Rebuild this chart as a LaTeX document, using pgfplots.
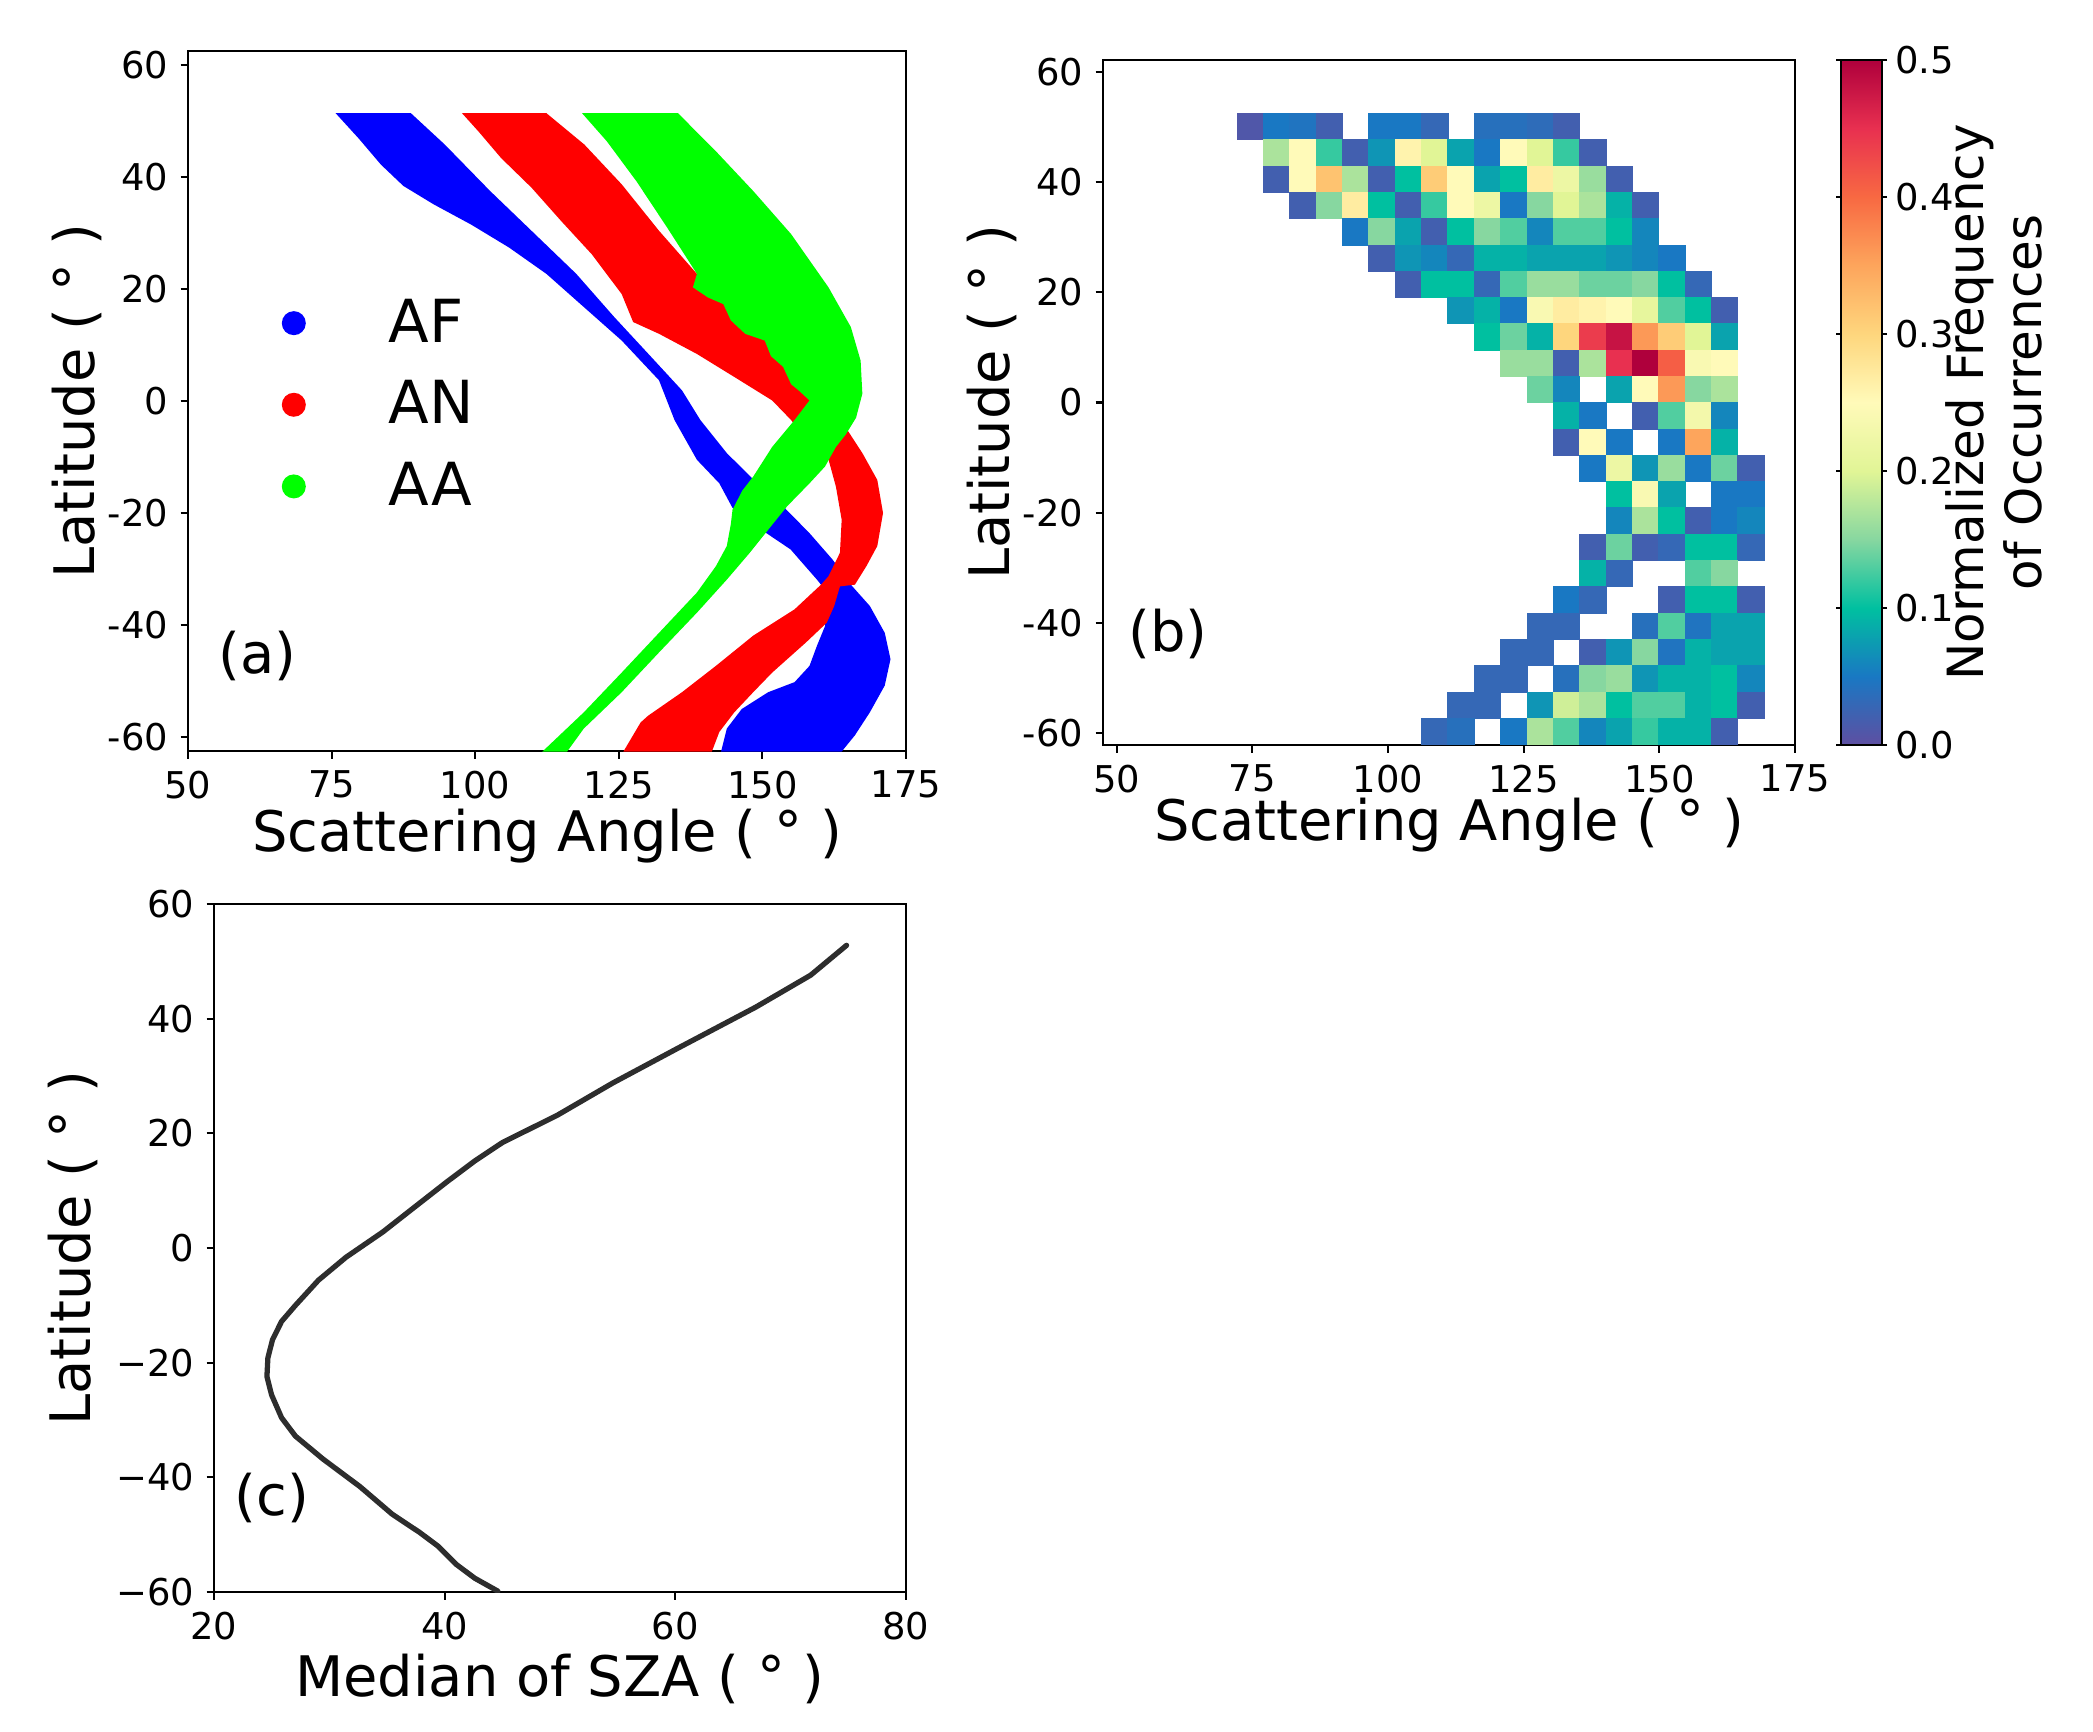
\documentclass[border=0pt]{standalone}
\usepackage{fontspec}
\setmainfont{DejaVu Sans}
\usepackage{pgfplots}
\pgfplotsset{compat=1.18}

\definecolor{afblue}{RGB}{0,0,255}
\definecolor{anred}{RGB}{255,0,0}
\definecolor{aagreen}{RGB}{0,255,0}
\definecolor{szaline}{RGB}{45,45,45}

\pgfplotsset{
  colormap={spectralr}{rgb255=(94,79,162) rgb255=(25,120,195) rgb255=(0,192,160)
    rgb255=(135,215,160) rgb255=(225,245,150) rgb255=(255,250,185) rgb255=(254,214,125)
    rgb255=(253,165,92) rgb255=(248,105,66) rgb255=(232,48,80) rgb255=(175,0,60)},
  panel/.style={
    scale only axis,
    axis line style={line width=0.6pt},
    tick align=outside, tick pos=left,
    major tick length=0.075cm,
    every tick/.append style={black, line width=0.6pt},
    tick label style={font=\fontsize{10.5}{12}\selectfont},
    label style={font=\fontsize{15.9}{18}\selectfont},
    /pgf/number format/assume math mode=true,
    xlabel style={anchor=center},
    ylabel style={anchor=center},
  },
}

% heatmap cells: x = scattering angle bin centre, y = latitude bin centre, c = frequency
\pgfplotstableread{
x y c
74.61 50.08 0.01
79.47 50.08 0.05
84.33 50.08 0.045
89.18 50.08 0.02
98.90 50.08 0.05
103.76 50.08 0.05
108.62 50.08 0.03
118.33 50.08 0.04
123.19 50.08 0.04
128.05 50.08 0.035
132.91 50.08 0.02
79.47 45.31 0.17
84.33 45.31 0.25
89.18 45.31 0.12
94.04 45.31 0.02
98.90 45.31 0.07
103.76 45.31 0.26
108.62 45.31 0.20
113.47 45.31 0.08
118.33 45.31 0.05
123.19 45.31 0.25
128.05 45.31 0.20
132.91 45.31 0.12
137.76 45.31 0.02
79.47 40.53 0.02
84.33 40.53 0.25
89.18 40.53 0.32
94.04 40.53 0.17
98.90 40.53 0.02
103.76 40.53 0.10
108.62 40.53 0.31
113.47 40.53 0.25
118.33 40.53 0.08
123.19 40.53 0.10
128.05 40.53 0.27
132.91 40.53 0.22
137.76 40.53 0.16
142.62 40.53 0.02
84.33 35.76 0.02
89.18 35.76 0.15
94.04 35.76 0.27
98.90 35.76 0.10
103.76 35.76 0.02
108.62 35.76 0.12
113.47 35.76 0.25
118.33 35.76 0.22
123.19 35.76 0.05
128.05 35.76 0.15
132.91 35.76 0.20
137.76 35.76 0.17
142.62 35.76 0.09
147.48 35.76 0.02
94.04 30.98 0.05
98.90 30.98 0.15
103.76 30.98 0.08
108.62 30.98 0.02
113.47 30.98 0.10
118.33 30.98 0.15
123.19 30.98 0.13
128.05 30.98 0.06
132.91 30.98 0.13
137.76 30.98 0.13
142.62 30.98 0.10
147.48 30.98 0.06
98.90 26.21 0.02
103.76 26.21 0.07
108.62 26.21 0.06
113.47 26.21 0.03
118.33 26.21 0.09
123.19 26.21 0.09
128.05 26.21 0.08
132.91 26.21 0.08
137.76 26.21 0.08
142.62 26.21 0.07
147.48 26.21 0.06
152.34 26.21 0.05
103.76 21.43 0.02
108.62 21.43 0.10
113.47 21.43 0.10
118.33 21.43 0.03
123.19 21.43 0.13
128.05 21.43 0.16
132.91 21.43 0.16
137.76 21.43 0.14
142.62 21.43 0.14
147.48 21.43 0.15
152.34 21.43 0.10
157.20 21.43 0.03
113.47 16.66 0.07
118.33 16.66 0.09
123.19 16.66 0.05
128.05 16.66 0.24
132.91 16.66 0.27
137.76 16.66 0.26
142.62 16.66 0.25
147.48 16.66 0.21
152.34 16.66 0.13
157.20 16.66 0.10
162.05 16.66 0.02
118.33 11.88 0.10
123.19 11.88 0.14
128.05 11.88 0.09
132.91 11.88 0.30
137.76 11.88 0.44
142.62 11.88 0.48
147.48 11.88 0.36
152.34 11.88 0.31
157.20 11.88 0.20
162.05 11.88 0.08
123.19 7.11 0.16
128.05 7.11 0.16
132.91 7.11 0.02
137.76 7.11 0.17
142.62 7.11 0.45
147.48 7.11 0.50
152.34 7.11 0.41
157.20 7.11 0.24
162.05 7.11 0.25
128.05 2.33 0.14
132.91 2.33 0.06
142.62 2.33 0.08
147.48 2.33 0.25
152.34 2.33 0.36
157.20 2.33 0.15
162.05 2.33 0.17
132.91 -2.44 0.09
137.76 -2.44 0.05
147.48 -2.44 0.02
152.34 -2.44 0.13
157.20 -2.44 0.23
162.05 -2.44 0.06
132.91 -7.22 0.02
137.76 -7.22 0.25
142.62 -7.22 0.05
152.34 -7.22 0.05
157.20 -7.22 0.35
162.05 -7.22 0.09
137.76 -11.99 0.05
142.62 -11.99 0.22
147.48 -11.99 0.07
152.34 -11.99 0.16
157.20 -11.99 0.05
162.05 -11.99 0.14
166.91 -11.99 0.02
142.62 -16.77 0.10
147.48 -16.77 0.24
152.34 -16.77 0.08
162.05 -16.77 0.05
166.91 -16.77 0.05
142.62 -21.54 0.06
147.48 -21.54 0.17
152.34 -21.54 0.10
157.20 -21.54 0.02
162.05 -21.54 0.05
166.91 -21.54 0.06
137.76 -26.32 0.02
142.62 -26.32 0.14
147.48 -26.32 0.02
152.34 -26.32 0.03
157.20 -26.32 0.10
162.05 -26.32 0.10
166.91 -26.32 0.03
137.76 -31.09 0.09
142.62 -31.09 0.03
157.20 -31.09 0.13
162.05 -31.09 0.15
132.91 -35.87 0.05
137.76 -35.87 0.03
152.34 -35.87 0.02
157.20 -35.87 0.10
162.05 -35.87 0.10
166.91 -35.87 0.02
128.05 -40.64 0.03
132.91 -40.64 0.03
147.48 -40.64 0.04
152.34 -40.64 0.13
157.20 -40.64 0.045
162.05 -40.64 0.08
166.91 -40.64 0.08
123.19 -45.42 0.03
128.05 -45.42 0.03
137.76 -45.42 0.02
142.62 -45.42 0.07
147.48 -45.42 0.15
152.34 -45.42 0.045
157.20 -45.42 0.09
162.05 -45.42 0.08
166.91 -45.42 0.08
118.33 -50.19 0.03
123.19 -50.19 0.03
132.91 -50.19 0.04
137.76 -50.19 0.15
142.62 -50.19 0.16
147.48 -50.19 0.07
152.34 -50.19 0.09
157.20 -50.19 0.09
162.05 -50.19 0.10
166.91 -50.19 0.06
113.47 -54.97 0.03
118.33 -54.97 0.03
128.05 -54.97 0.07
132.91 -54.97 0.19
137.76 -54.97 0.17
142.62 -54.97 0.10
147.48 -54.97 0.13
152.34 -54.97 0.13
157.20 -54.97 0.09
162.05 -54.97 0.10
166.91 -54.97 0.02
108.62 -59.74 0.03
113.47 -59.74 0.04
123.19 -59.74 0.05
128.05 -59.74 0.17
132.91 -59.74 0.13
137.76 -59.74 0.06
142.62 -59.74 0.08
147.48 -59.74 0.12
152.34 -59.74 0.09
157.20 -59.74 0.09
162.05 -59.74 0.02
}\freqtable

\begin{document}
\begin{tikzpicture}
\useasboundingbox (0,0) rectangle (20.93,-17.31);

% ---------------- (a) ----------------
\begin{axis}[panel,
  at={(1.88cm,-0.51cm)}, anchor=north west,
  width=7.18cm, height=7.00cm,
  xmin=50, xmax=175, ymin=-62.5, ymax=62.5,
  xtick={50,75,100,125,150,175},
  ytick={-60,-40,-20,0,20,40,60},
  xlabel={Scattering Angle ( ° )},
  ylabel={Latitude ( ° )},
  xlabel style={at={(axis description cs:0.5,-0.121)}},
  ylabel style={at={(axis description cs:-0.155,0.5)}},
  legend cell align=left,
  legend image code/.code={\fill[#1] (0cm,0cm) circle (0.12cm);},
  legend style={at={(axis description cs:0.115,0.667)}, anchor=north west,
    draw=none, fill=none, font=\fontsize{16.9}{19}\selectfont,
    row sep=0.19cm,
    /tikz/every odd column/.append style={column sep=0.76cm}},
]
\addplot[fill=afblue, draw=none] coordinates {
(75.7,51.4) (88.8,51.4) (94.7,45.8) (102.6,37.5) (109.8,30.4) (117.6,22.7)
(124.2,15.0) (130.7,7.8) (136.0,1.9) (139.2,-3.4) (143.8,-9.3) (149.1,-14.7)
(151.5,-16.8) (153.6,-18.8) (158.2,-23.6) (162.2,-28.3) (164.8,-31.9) (165.4,-32.8)
(168.7,-36.6) (171.3,-41.4) (172.3,-46.1) (171.3,-50.8) (168.7,-55.6) (166.1,-59.7)
(163.8,-62.6) (142.8,-62.6) (143.8,-58.5) (146.4,-55.0) (151.0,-52.0) (155.6,-50.2)
(158.2,-47.3) (159.5,-43.7) (160.9,-40.2) (161.2,-36.6) (160.2,-32.8) (159.5,-31.9)
(154.9,-26.5) (150.7,-23.6) (147.5,-21.0) (144.8,-19.1) (142.5,-14.7) (138.6,-10.5)
(134.7,-3.4) (132.0,3.7) (125.5,10.8) (119.0,16.7) (112.4,22.7) (105.9,27.4)
(99.3,31.5) (92.8,35.1) (87.5,38.4) (83.6,42.2) (79.7,46.9)
} --cycle;
\addlegendentry{AF}
\addplot[fill=anred, draw=none] coordinates {
(97.7,51.4) (112.4,51.4) (119.0,45.8) (125.5,38.7) (132.0,30.4) (138.6,22.7)
(148.4,17.9) (158.2,6.1) (163.5,-3.0) (164.8,-5.2) (167.4,-9.3) (170.0,-14.1)
(171.0,-20.0) (170.0,-25.9) (168.1,-29.5) (166.1,-32.8) (163.5,-33.1) (162.5,-36.6)
(161.2,-39.6) (157.6,-43.1) (151.7,-48.5) (148.4,-52.0) (145.1,-55.6) (142.5,-59.1)
(141.2,-62.6) (125.8,-62.6) (128.8,-57.4) (130.1,-56.2) (136.0,-52.0) (141.9,-47.3)
(148.4,-41.9) (155.6,-37.2) (160.2,-32.8) (161.5,-31.3) (163.5,-27.1) (163.8,-21.2)
(162.8,-15.3) (161.2,-9.3) (161.0,-6.0) (156.3,-5.2) (155.0,-3.4) (151.7,0.1)
(145.1,4.3) (138.6,8.4) (132.0,12.0) (127.5,14.1) (125.5,19.1) (120.3,26.2)
(115.0,32.1) (109.8,38.1) (104.5,43.4) (100.6,48.1)
} --cycle;
\addlegendentry{AN}
\addplot[fill=aagreen, draw=none] coordinates {
(118.6,51.4) (135.3,51.4) (141.9,44.6) (148.4,37.5) (155.0,29.8) (161.5,20.3)
(165.4,13.2) (167.1,7.2) (167.4,1.3) (166.3,-3.0) (164.5,-6.0) (162.8,-8.2)
(160.9,-11.7) (158.2,-14.7) (154.3,-18.8) (151.0,-23.0) (147.8,-27.1) (143.8,-31.9)
(138.6,-37.8) (132.0,-44.9) (125.5,-52.0) (118.9,-58.5) (116.0,-62.6) (111.7,-62.6)
(118.9,-55.6) (125.5,-48.5) (132.0,-41.4) (138.6,-34.2) (141.9,-29.5) (143.8,-25.9)
(144.5,-22.0) (144.8,-19.4) (146.5,-16.0) (148.4,-13.5) (151.7,-8.2) (155.6,-3.4)
(158.2,0.1) (156.3,1.9) (155.0,3.0) (153.6,6.1) (151.5,8.0) (150.4,10.8)
(147.0,12.0) (144.5,14.4) (143.2,17.3) (140.5,18.5) (137.9,20.3) (138.6,22.7)
(133.4,31.0) (128.1,39.2) (122.9,46.4)
} --cycle;
\addlegendentry{AA}
\node[font=\fontsize{15.9}{18}\selectfont] at (axis description cs:0.097,0.136) {(a)};
\end{axis}

% ---------------- (b) ----------------
\begin{axis}[panel,
  at={(11.03cm,-0.60cm)}, anchor=north west,
  width=6.92cm, height=6.85cm,
  xmin=47.47, xmax=175, ymin=-62.2, ymax=62.2,
  xtick={50,75,100,125,150,175},
  ytick={-60,-40,-20,0,20,40,60},
  xlabel={Scattering Angle ( ° )},
  ylabel={Latitude ( ° )},
  xlabel style={at={(axis description cs:0.5,-0.117)}},
  ylabel style={at={(axis description cs:-0.160,0.5)}},
  colormap name=spectralr,
  point meta min=0, point meta max=0.5,
  colorbar,
  colorbar style={
    at={(1.0665,1)}, anchor=north west,
    width=0.41cm,
    axis line style={line width=0.6pt},
    tick align=outside,
    major tick length=0.05cm,
    ytick={0,0.1,0.2,0.3,0.4,0.5},
    yticklabel style={font=\fontsize{10.5}{12}\selectfont, xshift=-0.04cm,
      /pgf/number format/.cd, fixed, fixed zerofill, precision=1, assume math mode=true},
    ylabel={Normalized Frequency\\of Occurrences},
    ylabel style={font=\fontsize{14.2}{16.5}\selectfont, align=center,
      at={(axis description cs:3.73,0.5)}, anchor=center, rotate=0},
  },
]
\addplot[scatter, only marks, mark=square*, mark size=0.1315cm, line width=0.3pt,
  scatter src=explicit,
  scatter/use mapped color={draw=mapped color, fill=mapped color}]
  table[x=x, y=y, meta=c] {\freqtable};
\node[font=\fontsize{15.9}{18}\selectfont] at (axis description cs:0.094,0.162) {(b)};
\end{axis}

% ---------------- (c) ----------------
\begin{axis}[panel,
  at={(2.14cm,-9.04cm)}, anchor=north west,
  width=6.92cm, height=6.88cm,
  xmin=20, xmax=80, ymin=-60, ymax=60,
  xtick={20,40,60,80},
  ytick={-60,-40,-20,0,20,40,60},
  yticklabels={−60,−40,−20,0,20,40,60},
  xlabel={Median of SZA ( ° )},
  ylabel={Latitude ( ° )},
  xlabel style={at={(axis description cs:0.5,-0.126)}},
  ylabel style={at={(axis description cs:-0.204,0.5)}},
]
\addplot[szaline, line width=1.5pt, line join=round, line cap=round] coordinates {
(74.85,52.8) (71.74,47.6) (66.96,42.0) (60.17,34.8) (54.59,28.8) (49.80,23.2)
(45.01,18.4) (42.62,15.2) (40.23,11.6) (37.43,7.2) (34.64,2.8) (31.45,-1.6)
(29.06,-5.6) (27.06,-10.0) (25.86,-12.8) (25.07,-16.0) (24.67,-19.2) (24.59,-22.4)
(24.99,-25.6) (25.86,-29.6) (27.06,-32.8) (29.45,-36.8) (32.65,-41.6) (35.44,-46.4)
(37.83,-49.6) (39.43,-52.0) (41.02,-55.2) (42.62,-57.6) (44.61,-59.84)
};
\node[font=\fontsize{15.9}{18}\selectfont] at (axis description cs:0.084,0.137) {(c)};
\end{axis}
\end{tikzpicture}
\end{document}
